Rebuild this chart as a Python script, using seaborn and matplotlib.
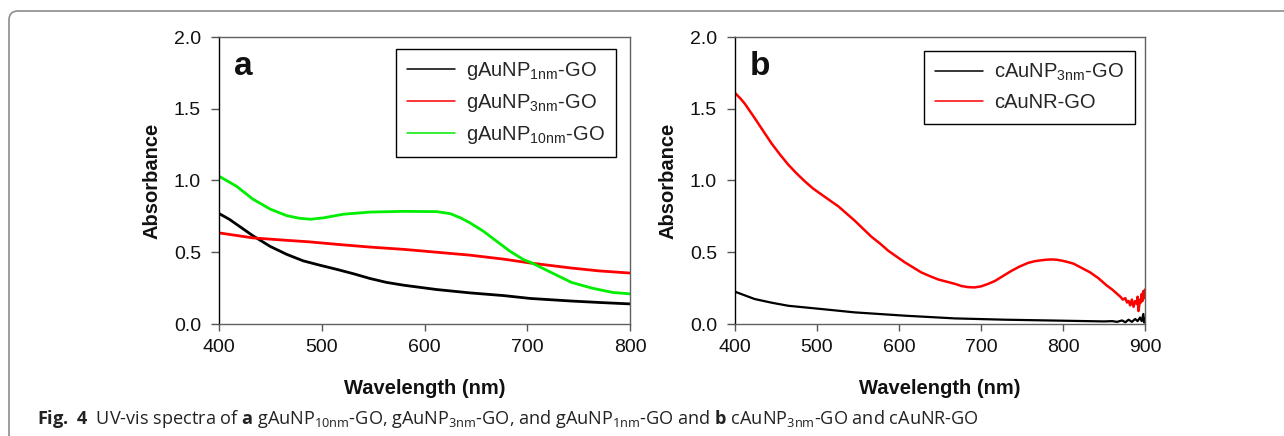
import numpy as np
import pandas as pd
import matplotlib
matplotlib.use("Agg")
import matplotlib.pyplot as plt
from matplotlib import font_manager
from matplotlib.patches import FancyBboxPatch
from matplotlib.transforms import IdentityTransform
import seaborn as sns

# ---- panel a: gold nanoparticle / graphene oxide spectra ----
wl_a_1nm = [400, 410, 420, 433, 450, 466, 482, 498, 515, 531, 547, 563, 580,
            612, 644, 677, 703, 743, 770, 800]
abs_a_1nm = [0.77, 0.73, 0.68, 0.615, 0.54, 0.485, 0.44, 0.41, 0.38, 0.35,
             0.317, 0.29, 0.27, 0.24, 0.217, 0.198, 0.178, 0.16, 0.15, 0.14]

wl_a_3nm = [400, 433, 466, 487, 515, 547, 580, 612, 644, 677, 703, 743, 770, 800]
abs_a_3nm = [0.635, 0.60, 0.583, 0.573, 0.555, 0.536, 0.52, 0.50, 0.48,
             0.452, 0.425, 0.39, 0.37, 0.355]

wl_a_10nm = [400, 417, 433, 450, 466, 478, 489, 502, 521, 547, 580, 612, 625,
             635, 644, 657, 670, 683, 696, 704, 723, 743, 763, 783, 800]
abs_a_10nm = [1.03, 0.96, 0.87, 0.80, 0.755, 0.737, 0.73, 0.74, 0.765, 0.78,
              0.785, 0.783, 0.769, 0.74, 0.706, 0.648, 0.578, 0.508, 0.45,
              0.427, 0.36, 0.29, 0.25, 0.22, 0.21]

# ---- panel b: citrate nanoparticle / nanorod spectra ----
wl_b_np = [400, 424, 445, 465, 506, 546, 607, 668, 729, 800, 850, 860, 866,
           872, 876, 880, 884, 888, 891, 894, 896, 898, 899, 900]
abs_b_np = [0.225, 0.174, 0.148, 0.127, 0.104, 0.081, 0.058, 0.039, 0.030,
            0.023, 0.018, 0.02, 0.015, 0.025, 0.012, 0.03, 0.015, 0.035,
            0.02, 0.045, 0.02, 0.07, 0.01, 0.04]

wl_b_nr = [400, 406, 412, 418, 424, 435, 445, 455, 465, 475, 485, 495, 506,
           516, 526, 536, 546, 556, 566, 577, 587, 597, 607, 617, 627, 637,
           648, 658, 668, 676, 684, 692, 700, 708, 717, 727, 737, 747, 757,
           765, 772, 778, 785, 792, 800, 807, 813, 823, 833, 843, 853, 860,
           866, 870, 873, 876, 878, 880, 882, 884, 886, 888, 890, 891, 892,
           894, 895, 896, 897, 898, 899, 900]
abs_b_nr = [1.61, 1.575, 1.535, 1.485, 1.435, 1.34, 1.255, 1.18, 1.11, 1.05,
            0.995, 0.945, 0.90, 0.86, 0.82, 0.77, 0.72, 0.665, 0.61, 0.56,
            0.51, 0.47, 0.43, 0.395, 0.36, 0.335, 0.31, 0.295, 0.28, 0.265,
            0.257, 0.255, 0.262, 0.278, 0.30, 0.335, 0.37, 0.40, 0.425, 0.437,
            0.443, 0.447, 0.45, 0.448, 0.44, 0.43, 0.42, 0.39, 0.36, 0.32,
            0.27, 0.24, 0.21, 0.19, 0.17, 0.18, 0.15, 0.16, 0.13, 0.17, 0.12,
            0.16, 0.14, 0.19, 0.09, 0.17, 0.15, 0.21, 0.16, 0.23, 0.18, 0.24]

labels_a = [r"gAuNP$_\mathregular{1nm}$-GO", r"gAuNP$_\mathregular{3nm}$-GO",
            r"gAuNP$_\mathregular{10nm}$-GO"]
labels_b = [r"cAuNP$_\mathregular{3nm}$-GO", "cAuNR-GO"]

x_ticks_a = [400, 500, 600, 700, 800]
x_ticks_b = [400, 500, 600, 700, 800, 900]
y_ticks = [0.0, 0.5, 1.0, 1.5, 2.0]

caption = (r"$\mathbf{Fig.}$ $\mathbf{4}$  UV-vis spectra of $\mathbf{a}$ "
           r"gAuNP$_\mathregular{10nm}$-GO, gAuNP$_\mathregular{3nm}$-GO, and "
           r"gAuNP$_\mathregular{1nm}$-GO and $\mathbf{b}$ "
           r"cAuNP$_\mathregular{3nm}$-GO and cAuNR-GO")

sns.set_theme(style="ticks")
installed = {f.name for f in font_manager.fontManager.ttflist}
cap_font = "Liberation Sans Narrow" if "Liberation Sans Narrow" in installed else "Open Sans"
plt.rcParams["font.family"] = ["Liberation Sans", "DejaVu Sans"]
plt.rcParams["mathtext.fontset"] = "custom"
plt.rcParams["mathtext.bf"] = f"{cap_font}:bold"
plt.rcParams["mathtext.rm"] = "Liberation Sans"

W, H = 1284, 436
fig = plt.figure(figsize=(W / 100, H / 100), dpi=100)
fig.patch.set_facecolor("white")

# rounded outer frame (only the top-left corner is inside the canvas)
frame = FancyBboxPatch((9, -30), 1320, 436 - 11 + 30,
                       boxstyle="round,pad=0,rounding_size=9",
                       transform=IdentityTransform(), fill=False,
                       edgecolor="#8c8c8c", linewidth=1.2)
fig.add_artist(frame)


def px_axes(x0, x1, y0, y1):
    return fig.add_axes([x0 / W, 1 - y1 / H, (x1 - x0) / W, (y1 - y0) / H])


ax_a = px_axes(219, 630, 37, 324)
ax_b = px_axes(735, 1145, 37, 324)

series_a = [(wl_a_1nm, abs_a_1nm, "black", labels_a[0], 2.0),
            (wl_a_3nm, abs_a_3nm, "#ff0000", labels_a[1], 2.0),
            (wl_a_10nm, abs_a_10nm, "#00ee00", labels_a[2], 2.0)]
series_b = [(wl_b_np, abs_b_np, "black", labels_b[0], 1.6),
            (wl_b_nr, abs_b_nr, "#ff0000", labels_b[1], 1.8)]

for ax, series, xt, panel in [(ax_a, series_a, x_ticks_a, "a"),
                              (ax_b, series_b, x_ticks_b, "b")]:
    for wl, ab, col, lab, lw in series:
        sns.lineplot(x=wl, y=ab, color=col, label=lab, ax=ax, lw=lw,
                     estimator=None, sort=False)
    ax.set_xlim(xt[0], xt[-1])
    ax.set_ylim(0, 2.0)
    ax.set_xticks(xt)
    ax.set_yticks(y_ticks)
    ax.set_yticklabels([f"{v:.1f}" for v in y_ticks])
    ax.tick_params(axis="both", direction="out", labelsize=14,
                   colors="#555555", labelcolor="#111111", width=1.0)
    ax.tick_params(axis="x", length=5, pad=6)
    ax.tick_params(axis="y", length=6, pad=7)
    for side in ["top", "right", "bottom"]:
        ax.spines[side].set_color("#606060")
        ax.spines[side].set_linewidth(1.0)
        ax.spines[side].set_visible(True)
    ax.spines["left"].set_color("black")
    ax.spines["left"].set_linewidth(1.0)
    ax.set_xlabel("Wavelength (nm)", fontsize=14.5, fontweight="bold",
                  color="#111111")
    ax.set_ylabel("Absorbance", fontsize=14.5, fontweight="bold",
                  color="#111111")
    ax.xaxis.set_label_coords(0.5, -0.19)
    ax.yaxis.set_label_coords(-0.14, 0.5)
    ax.text(0.036, 0.868, panel, transform=ax.transAxes, fontsize=24,
            fontweight="bold", ha="left", va="baseline", color="#111111")

leg_kw = dict(loc="upper right", bbox_transform=fig.transFigure,
              borderaxespad=0, fontsize=14.5, handlelength=2.4,
              handletextpad=0.55, labelspacing=0.5, borderpad=0.55,
              fancybox=False, framealpha=1, edgecolor="black")
leg_a = ax_a.legend(bbox_to_anchor=(616 / W, 1 - 49 / H), **leg_kw)
leg_b = ax_b.legend(bbox_to_anchor=(1135 / W, 1 - 51 / H), **leg_kw)
for leg in (leg_a, leg_b):
    leg.get_frame().set_linewidth(1.0)
    for line in leg.get_lines():
        line.set_linewidth(1.1)

fig.text(37 / W, 1 - 424 / H, caption, fontsize=13.1, family=cap_font,
         color="#222222", ha="left", va="baseline")

fig.savefig("out.png", dpi=100, facecolor="white")
